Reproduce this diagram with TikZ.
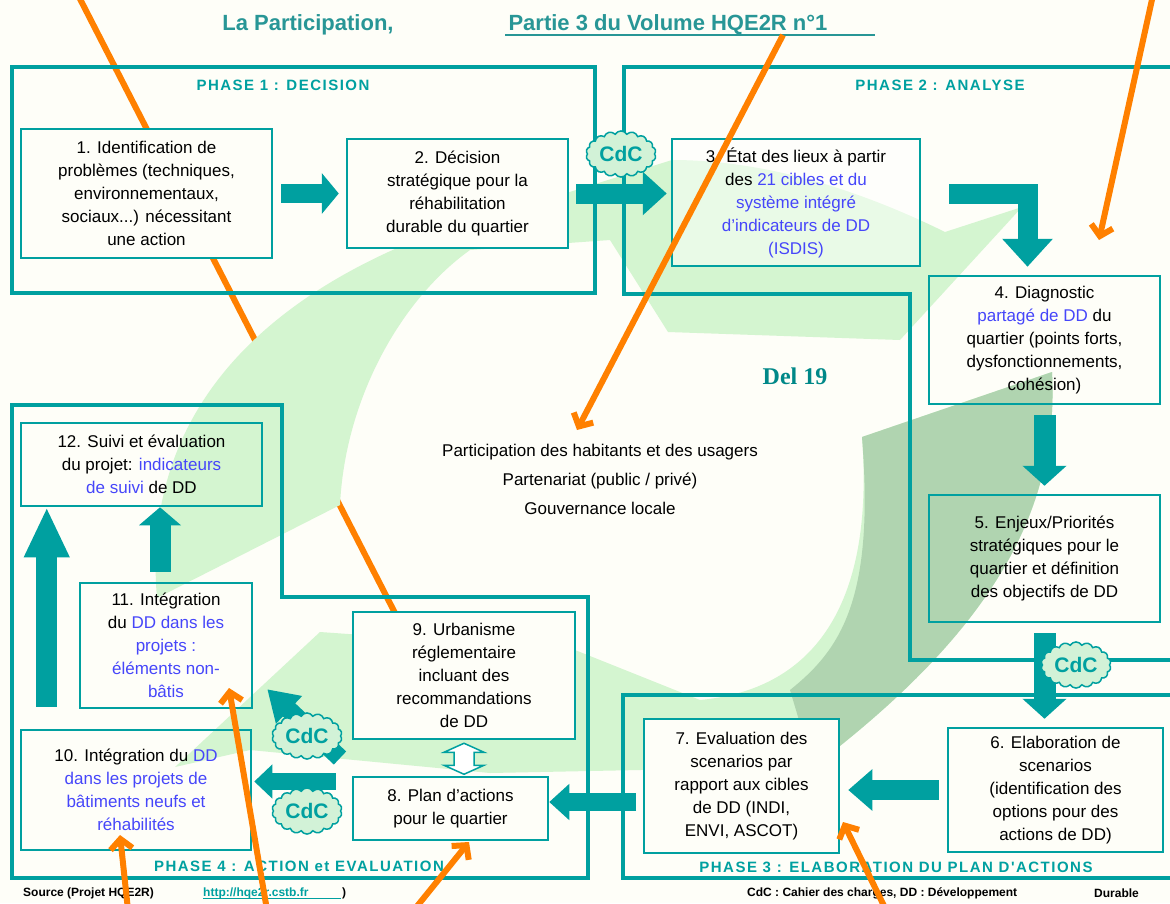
\documentclass[tikz,border=0pt]{standalone}
\usepackage{fontspec}
\setmainfont{Liberation Sans}
\newfontfamily\phasefont[LetterSpace=10]{Liberation Sans}
\newfontfamily\delfont{Liberation Serif}
\usetikzlibrary{positioning}
\usetikzlibrary{arrows.meta, shapes.symbols}
\definecolor{tealc}{RGB}{0,160,160}
\definecolor{titrec}{RGB}{40,150,150}
\definecolor{bleuc}{RGB}{70,70,250}
\definecolor{orangec}{RGB}{255,128,0}
\definecolor{vertclair}{RGB}{212,245,208}
\definecolor{vertfonce}{RGB}{176,212,176}
\definecolor{cdcfond}{RGB}{210,242,215}
\definecolor{fond}{RGB}{254,254,248}

\begin{document}
\begin{tikzpicture}[x=1pt, y=-1pt,
 etape/.style={rectangle, draw=tealc, line width=2.5pt, align=center, inner sep=0pt,
  font=\fontsize{17}{23}\selectfont},
 plein/.style={fill=fond},
 cadre/.style={draw=tealc, line width=4pt},
 phase/.style={text=tealc, inner sep=0pt, font=\phasefont\bfseries\fontsize{15}{15}\selectfont},
 bloc/.style={draw=tealc, line width=20pt},
 creux/.style={draw=tealc, line width=1.5pt, fill=white},
 cdc/.style={cloud, cloud puffs=18, cloud puff arc=120, aspect=1.5, draw=tealc, line width=1.5pt,
  fill=cdcfond, text=tealc, inner sep=0pt, minimum width=70pt, minimum height=46pt,
  font=\bfseries\fontsize{21}{21}\selectfont},
 fil/.style={draw=orangec, line width=6pt},
 pointe/.style={-{Straight Barb[length=10pt,width=22pt]}},
 pied/.style={inner sep=0pt, anchor=west, font=\bfseries\fontsize{12}{12}\selectfont}
]
\useasboundingbox (0,0) rectangle (1170,903);
\fill[fond] (0,0) rectangle (1170,903);

% orange line under the green
\coordinate (o1) at (78,-5);
\coordinate (o1f) at (395,613);
\draw[fil] (o1) -- (o1f);

% green cycle
\fill[vertclair] (157,598) .. controls (140,400) and (280,260) .. (560,195)
 -- (672,160) .. controls (780,160) and (880,200) .. (945,232)
 -- (1022,207) -- (900,340) -- (668,332) -- (610,240) -- (470,250)
 .. controls (400,300) and (345,400) .. (340,505) -- cycle;
\fill[vertclair] (862,437) -- (1052,372) .. controls (1060,520) and (980,640) .. (813,767)
 -- (640,770) -- (490,773) -- (250,750) -- (175,767) -- (320,632) -- (575,650) -- (700,700)
 .. controls (810,690) and (875,610) .. (862,437) -- cycle;
\fill[vertfonce] (862,437) -- (1052,372) .. controls (1060,520) and (980,640) .. (813,767)
 -- (790,690) .. controls (840,650) and (875,600) .. (862,437) -- cycle;

% phases
\draw[cadre] (12,67) rectangle (595,293);
\draw[cadre] (1180,67) -- (624,67) -- (624,294) -- (910,294) -- (910,660) -- (1180,660);
\draw[cadre] (1180,695) -- (623,695) -- (623,878) -- (1180,878);
\draw[cadre] (12,405) -- (282,405) -- (282,597) -- (588,597) -- (588,878) -- (12,878) -- cycle;

\node[phase] (L1) at (283,85) {PHASE 1 : DECISION};
\node[phase] (L2) at (940,85) {PHASE 2 : ANALYSE};
\node[phase] (L3) at (896,867) {PHASE 3 : ELABORATION DU PLAN D'ACTIONS};
\node[phase] (L4) at (299,866) {PHASE 4 : ACTION et EVALUATION};

% steps
\node[etape, plein, minimum width=251pt, minimum height=129pt] (E1) at (146.5,193.5)
 {1. Identification de\\ problèmes (techniques,\\ environnementaux,\\ sociaux...) nécessitant\\ une action};
\node[etape, plein, minimum width=221pt, minimum height=109pt] (E2) at (457.5,193.5)
 {2. Décision\\ stratégique pour la\\ réhabilitation\\ durable du quartier};
\node[etape, fill=white, fill opacity=0.5, text opacity=1, minimum width=248pt, minimum height=127pt] (E3) at (796,202.5)
 {3. État des lieux à partir\\ des \textcolor{bleuc}{21 cibles et du}\\ \textcolor{bleuc}{système intégré}\\
  \textcolor{bleuc}{d'indicateurs de DD}\\ \textcolor{bleuc}{(ISDIS)}};
\node[etape, minimum width=231pt, minimum height=128pt] (E4) at (1044.5,340)
 {4. Diagnostic\\ \textcolor{bleuc}{partagé de DD} du\\ quartier (points forts,\\ dysfonctionnements,\\ cohésion)};
\node[etape, minimum width=231pt, minimum height=127pt] (E5) at (1044.5,558.5)
 {5. Enjeux/Priorités\\ stratégiques pour le\\ quartier et définition\\ des objectifs de DD};
\node[etape, plein, minimum width=215pt, minimum height=124pt] (E6) at (1055.5,790)
 {6. Elaboration de\\ scenarios\\ (identification des\\ options pour des\\ actions de DD)};
\node[etape, plein, minimum width=195pt, minimum height=134pt] (E7) at (741.5,786)
 {7. Evaluation des\\ scenarios par\\ rapport aux cibles\\ de DD (INDI,\\ ENVI, ASCOT)};
\node[etape, plein, minimum width=195pt, minimum height=63pt] (E8) at (450.5,808.5)
 {8. Plan d'actions\\ pour le quartier};
\node[etape, plein, minimum width=222pt, minimum height=127pt] (E9) at (464,675.5)
 {9. Urbanisme\\ réglementaire\\ incluant des\\ recommandations\\ de DD};
\node[etape, minimum width=230pt, minimum height=120pt] (E10) at (136,790)
 {10. Intégration du \textcolor{bleuc}{DD}\\ \textcolor{bleuc}{dans les projets de}\\
  \textcolor{bleuc}{bâtiments neufs et}\\ \textcolor{bleuc}{réhabilités}};
\node[etape, minimum width=172pt, minimum height=125pt] (E11) at (166,645.5)
 {11. Intégration\\ du \textcolor{bleuc}{DD dans les}\\ \textcolor{bleuc}{projets :}\\
  \textcolor{bleuc}{éléments non-}\\ \textcolor{bleuc}{bâtis}};
\node[etape, minimum width=241pt, minimum height=83pt] (E12) at (141.5,464.5)
 {12. Suivi et évaluation\\ du projet: \textcolor{bleuc}{indicateurs}\\ \textcolor{bleuc}{de suivi} de DD};

% block arrows
\draw[bloc, line width=19pt, -{Triangle[length=17pt,width=40pt]}, shorten <=8pt, shorten >=7pt] (E1.east) -- (E2.west);
\draw[bloc, -{Triangle[length=24pt,width=42pt]}, shorten <=7pt, shorten >=4pt] (E2.east) -- (E2.east -| E3.west);
\draw[bloc, line join=miter, -{Triangle[length=28pt,width=49pt]}, shorten >=8pt]
 ([xshift=28pt,yshift=8.5pt]E3.east) -| ([xshift=-17pt]E4.north);
\draw[bloc, line width=22pt, -{Triangle[length=20pt,width=43pt]}, shorten <=10pt, shorten >=8pt] (E4.south) -- (E5.north);
\draw[bloc, line width=22pt, -{Triangle[length=20pt,width=43pt]}, shorten <=10pt, shorten >=8pt] (E5.south) -- (E5.south |- E6.north);
\draw[bloc, -{Triangle[length=24pt,width=40pt]}, shorten <=8pt, shorten >=8pt] (E6.west) -- (E6.west -| E7.east);
\coordinate (P3) at (636,802);
\draw[bloc, line width=18pt, -{Triangle[length=20pt,width=35pt]}] (P3) -- (P3 -| E8.east);
\draw[bloc, line width=17pt, -{Triangle[length=18pt,width=33pt]}, shorten <=16pt, shorten >=2pt]
 ([yshift=27pt]E8.west) -- ([yshift=27pt]E8.west -| E10.east);
\coordinate (Q) at (340,758);
\draw[bloc, line width=18pt, -{Triangle[length=30pt,width=36pt]}] (Q) -- ([xshift=14pt,yshift=20pt]E11.south east);
\draw[bloc, line width=21pt, -{Triangle[length=50pt,width=42pt]}]
 ([xshift=27pt,yshift=22pt]E10.north west) -- ([xshift=27pt]E12.south west);
\draw[bloc, line width=21pt, -{Triangle[length=18pt,width=41pt]}]
 ([xshift=-6pt,yshift=10pt]E11.north) -- ([xshift=-6pt]E11.north |- E12.south);
\draw[creux] ([yshift=-3pt]E9.south) -- ++(20,9) -- ++(-10,0) -- ++(0,13) -- ++(10,0) -- ++(-20,9)
 -- ++(-20,-9) -- ++(10,0) -- ++(0,-13) -- ++(-10,0) -- cycle;

% CdC
\node[cdc] (K1) at (621,154) {CdC};
\node[cdc] (K2) at (1076,665) {CdC};
\node[cdc] (K3) at (307,736) {CdC};
\node[cdc] (K4) at (307,811) {CdC};

% titles and texts
\node[text=titrec, font=\bfseries\fontsize{22}{22}\selectfont] (T1) at (308,25) {La Participation,};
\node[text=titrec, font=\bfseries\fontsize{22}{22}\selectfont] (T2) at (668,25) {Partie 3 du Volume HQE2R n°1};
\draw[titrec, line width=1.5pt] ([yshift=-4pt]T2.base west) -- ++(370,0);
\node[align=center, font=\fontsize{17}{23}\selectfont] (C) at (600,479)
 {Participation des habitants et des usagers\\[6pt] Partenariat (public / privé)\\[6pt] Gouvernance locale};
\node[text=tealc!85!black, font=\delfont\bfseries\fontsize{24}{24}\selectfont] (D) at (795,376) {Del 19};

\node[pied] (S1) at (23,893) {Source (Projet HQE2R)};
\node[pied, text=tealc] (S2) at (203,893) {http://hqe2r.cstb.fr};
\draw[tealc, line width=1pt] ([yshift=-2pt]S2.base west) -- ++(138,0);
\node[pied] (S3) at (342,893) {)};
\node[pied] (S4) at (747,893) {CdC : Cahier des charges, DD : Développement};
\node[pied] (S5) at (1094,893) {Durable};

% orange arrows on top
\coordinate (o2) at (783,35);   \coordinate (o2f) at (577,430);
\coordinate (o3) at (1153,-5);  \coordinate (o3f) at (1099,240);
\coordinate (o4) at (128,910);  \coordinate (o4f) at (120,835);
\coordinate (o5) at (267,910);  \coordinate (o5f) at (229,688);
\coordinate (o6) at (414,910);  \coordinate (o6f) at (469,842);
\coordinate (o7) at (886,910);  \coordinate (o7f) at (843,822);
\draw[fil, pointe] (o2) -- (o2f);
\draw[fil, pointe] (o3) -- (o3f);
\draw[fil, pointe] (o4) -- (o4f);
\draw[fil, pointe] (o5) -- (o5f);
\draw[fil, pointe] (o6) -- (o6f);
\draw[fil, pointe] (o7) -- (o7f);
\end{tikzpicture}
\end{document}
